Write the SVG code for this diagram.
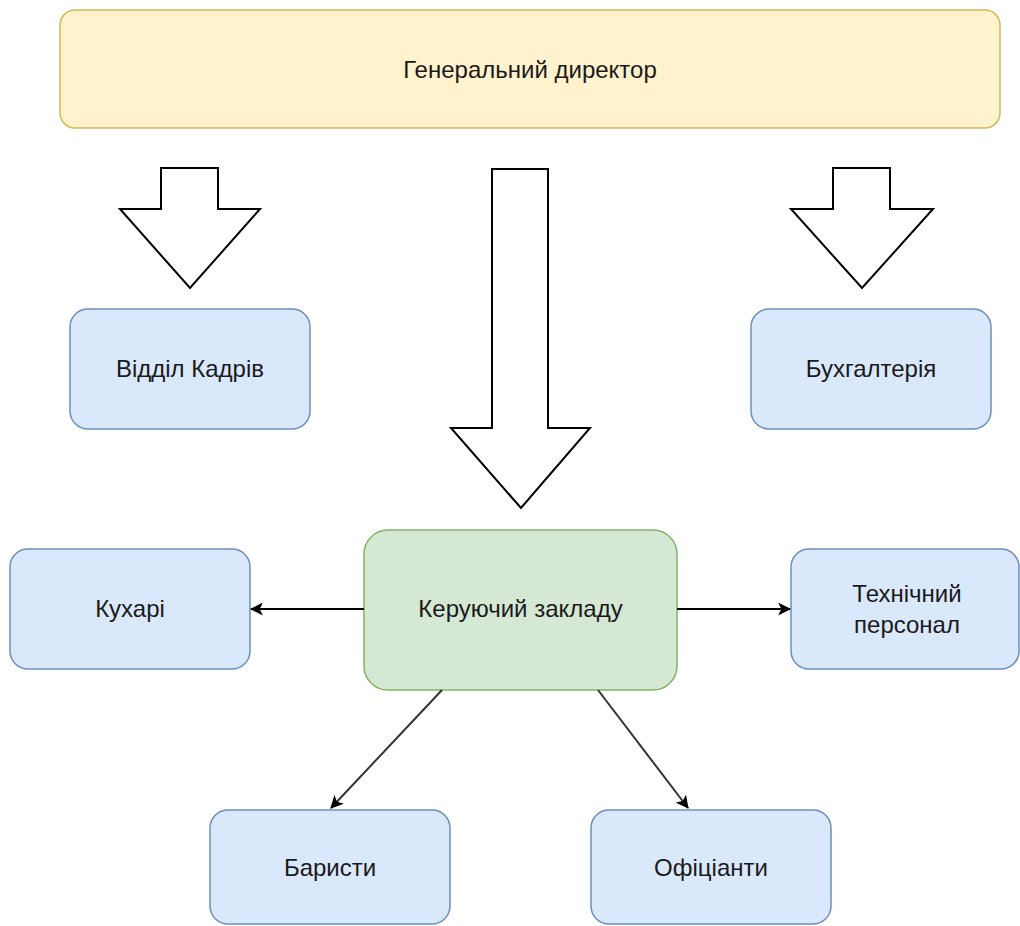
<svg xmlns="http://www.w3.org/2000/svg" width="1020" height="926" viewBox="0 0 1020 926">
  <style>
    .lbl { font-family: "Liberation Sans", Arial, Helvetica, sans-serif; font-size: 24px; fill: #1a1a1a; text-anchor: middle; dominant-baseline: central; }
    .yellow { fill: #fff2cc; stroke: #d6b656; stroke-width: 1.5; }
    .blue { fill: #dae8fc; stroke: #6c8ebf; stroke-width: 1.5; }
    .green { fill: #d5e8d4; stroke: #82b366; stroke-width: 1.5; }
    .block { fill: #ffffff; stroke: #000000; stroke-width: 2; stroke-linejoin: miter; }
    .edge { fill: none; stroke: #000000; stroke-width: 2; }
    .edge-d { fill: none; stroke: #333333; stroke-width: 2; }
  </style>
  <defs>
    <marker id="arrow" viewBox="0 0 12 12" refX="11" refY="6" markerWidth="13" markerHeight="13" markerUnits="userSpaceOnUse" orient="auto">
      <path d="M0,0 L12,6 L0,12 L3,6 Z" fill="#000000"/>
    </marker>
  </defs>

  <g id="general-director">
    <rect class="yellow" x="60" y="10" width="940" height="118" rx="15" ry="15"/>
    <text class="lbl" x="530" y="69">Генеральний директор</text>
  </g>

  <g id="block-arrows">
    <path class="block" d="M161,168 L218,168 L218,209 L260,209 L190,288 L120,209 L161,209 Z"/>
    <path class="block" d="M492,169 L548,169 L548,428 L590,428 L521,508 L451,428 L492,428 Z"/>
    <path class="block" d="M833,168 L890,168 L890,209 L933,209 L862,288 L791,209 L833,209 Z"/>
  </g>

  <g id="hr-department">
    <rect class="blue" x="70" y="309" width="240" height="120" rx="18" ry="18"/>
    <text class="lbl" x="190" y="368">Відділ Кадрів</text>
  </g>

  <g id="accounting">
    <rect class="blue" x="751" y="309" width="240" height="120" rx="18" ry="18"/>
    <text class="lbl" x="871" y="368">Бухгалтерія</text>
  </g>

  <g id="manager">
    <rect class="green" x="364" y="530" width="313" height="160" rx="24" ry="24"/>
    <text class="lbl" x="520.5" y="608">Керуючий закладу</text>
  </g>

  <g id="cooks">
    <rect class="blue" x="10" y="549" width="240" height="120" rx="18" ry="18"/>
    <text class="lbl" x="130" y="608">Кухарі</text>
  </g>

  <g id="technical-staff">
    <rect class="blue" x="791" y="549" width="228" height="120" rx="18" ry="18"/>
    <text class="lbl" x="907" y="593">Технічний</text>
    <text class="lbl" x="907" y="624">персонал</text>
  </g>

  <g id="baristas">
    <rect class="blue" x="210" y="810" width="240" height="114" rx="18" ry="18"/>
    <text class="lbl" x="330" y="867">Баристи</text>
  </g>

  <g id="waiters">
    <rect class="blue" x="591" y="810" width="240" height="114" rx="18" ry="18"/>
    <text class="lbl" x="711" y="867">Офіціанти</text>
  </g>

  <g id="connectors">
    <line class="edge" x1="364" y1="609" x2="251" y2="609" marker-end="url(#arrow)"/>
    <line class="edge" x1="677" y1="609" x2="790" y2="609" marker-end="url(#arrow)"/>
    <line class="edge-d" x1="442" y1="690" x2="331" y2="808" marker-end="url(#arrow)"/>
    <line class="edge-d" x1="598" y1="690" x2="688" y2="808" marker-end="url(#arrow)"/>
  </g>
</svg>
